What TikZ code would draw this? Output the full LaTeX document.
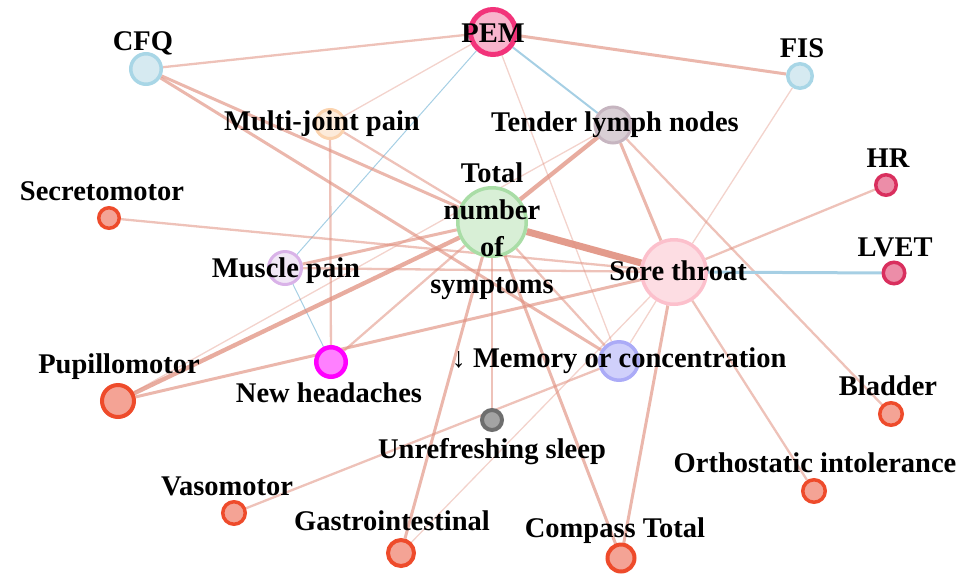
\documentclass[tikz,border=0pt]{standalone}
\usepackage{fontspec}
\setmainfont{Liberation Serif}
\usepackage{tikz}
\usetikzlibrary{backgrounds}
\definecolor{Ink}{HTML}{000000}
\definecolor{EdgeRed}{HTML}{E0907F}
\definecolor{EdgeBlue}{HTML}{A6CFE4}
\definecolor{PemLine}{HTML}{F2337A}
\definecolor{PemFill}{HTML}{F8B4CC}
\definecolor{SkyLine}{HTML}{A8D6E6}
\definecolor{SkyFill}{HTML}{D6EAF1}
\definecolor{PeachLine}{HTML}{FBD3AE}
\definecolor{PeachFill}{HTML}{FDEBDA}
\definecolor{MauveLine}{HTML}{C6B5C0}
\definecolor{MauveFill}{HTML}{D9CFD5}
\definecolor{RoseLine}{HTML}{D92F5E}
\definecolor{RoseFill}{HTML}{EC8DA8}
\definecolor{FlameLine}{HTML}{EE4B2B}
\definecolor{FlameFill}{HTML}{F4A395}
\definecolor{MintLine}{HTML}{A9DDA6}
\definecolor{MintFill}{HTML}{D8EFD6}
\definecolor{LilacLine}{HTML}{D9B2E8}
\definecolor{LilacFill}{HTML}{F1E7F6}
\definecolor{BlushLine}{HTML}{FCC0CC}
\definecolor{BlushFill}{HTML}{FDDDE3}
\definecolor{MagentaLine}{HTML}{FF00FF}
\definecolor{MagentaFill}{HTML}{FF80FF}
\definecolor{PeriLine}{HTML}{ABABF7}
\definecolor{PeriFill}{HTML}{D0D0FB}
\definecolor{SlateLine}{HTML}{6E6E6E}
\definecolor{SlateFill}{HTML}{A3A3A3}
\tikzset{
  sym/.style={
    circle, inner sep=0pt, line width=3.5pt, draw=#1Line, fill=#1Fill
  },
  tag/.style={
    font=\fontsize{28.5}{37}\selectfont\bfseries, text=Ink,
    inner sep=0pt, anchor=base, align=center
  },
  wk/.style={draw=EdgeRed, line width=1.3pt, draw opacity=.4},
  md/.style={draw=EdgeRed, line width=2.3pt, draw opacity=.55},
  st/.style={draw=EdgeRed, line width=3pt, draw opacity=.65},
  hv/.style={draw=EdgeRed, line width=4.3pt, draw opacity=.75},
  top/.style={draw=EdgeRed, line width=7pt, draw opacity=.9},
  neg/.style={draw=EdgeBlue, line width=#1}
}
\begin{document}
\begin{tikzpicture}[x=1pt,y=-1pt]
    \useasboundingbox (0,0) rectangle (963,574);
    \node[sym=Pem, line width=5pt, minimum size=45pt] (pem) at (493,32) {};
    \node[sym=Sky, minimum size=30.5pt] (cfq) at (146,69) {};
    \node[sym=Sky, minimum size=24.5pt] (fis) at (800,76) {};
    \node[sym=Peach, line width=3pt, minimum size=29pt] (mjp) at (330,124) {};
    \node[sym=Mauve, line width=3pt, minimum size=36pt] (tln) at (613,125) {};
    \node[sym=Rose, minimum size=20.5pt] (hr) at (886,185) {};
    \node[sym=Rose, minimum size=21.5pt] (lvet) at (894,273) {};
    \node[sym=Flame, minimum size=20.5pt] (secr) at (109,218) {};
    \node[sym=Mint, minimum size=68.5pt] (total) at (492,222) {};
    \node[sym=Lilac, line width=3pt, minimum size=33pt] (musc) at (285,268) {};
    \node[sym=Blush, minimum size=64.5pt] (sore) at (674,272) {};
    \node[sym=Peri, minimum size=38.5pt] (mem) at (619,361) {};
    \node[sym=Magenta, line width=4.5pt, minimum size=29.5pt] (head) at (331,362) {};
    \node[sym=Flame, line width=4pt, minimum size=32pt] (pupil) at (118,401) {};
    \node[sym=Slate, line width=4pt, minimum size=20pt] (sleep) at (492,420) {};
    \node[sym=Flame, minimum size=22.5pt] (blad) at (891,414) {};
    \node[sym=Flame, minimum size=22.5pt] (ortho) at (814,491) {};
    \node[sym=Flame, minimum size=22.5pt] (vaso) at (234,513) {};
    \node[sym=Flame, line width=4pt, minimum size=26pt] (gastro) at (401,553) {};
    \node[sym=Flame, line width=4pt, minimum size=27pt] (compass) at (621,558) {};
    \begin{scope}[on background layer]
      \draw[md] (cfq)--(pem);
      \draw[st] (pem)--(fis);
      \draw[wk] (pem)--(mjp);
      \draw[neg=1pt] (pem)--(musc);
      \draw[neg=2pt] (pem)--(tln);
      \draw[wk] (pem)--(mem);
      \draw[st] (cfq)--(total);
      \draw[st] (cfq)--(mem);
      \draw[md] (mjp)--(total);
      \draw[md] (mjp)--(head);
      \draw[md] (secr)--(sore);
      \draw[st] (musc)--(total);
      \draw[md] (musc)--(sore);
      \draw[neg=1pt] (musc)--(head);
      \draw[hv] (pupil)--(total);
      \draw[wk] (pupil)--(tln);
      \draw[st] (pupil)--(sore);
      \draw[md] (head)--(total);
      \draw[top] (total)--(sore);
      \draw[hv] (total)--(tln);
      \draw[md] (total)--(mem);
      \draw[md] (total)--(sleep);
      \draw[st] (total)--(gastro);
      \draw[st] (total)--(compass);
      \draw[st] (tln)--(sore);
      \draw[md] (tln)--(blad);
      \draw[wk] (fis)--(sore);
      \draw[md] (hr)--(sore);
      \draw[neg=3pt] (lvet)--(sore);
      \draw[wk] (sore)--(mem);
      \draw[st] (sore)--(compass);
      \draw[md] (sore)--(ortho);
      \draw[wk] (sore)--(gastro);
      \draw[md] (vaso)--(mem);
    \end{scope}
    \node[tag] (pem-t) at (493,42) {PEM};
    \node[tag] (cfq-t) at (143,50) {CFQ};
    \node[tag] (fis-t) at (802,57) {FIS};
    \node[tag] (mjp-t) at (322,130) {Multi-joint pain};
    \node[tag] (tln-t) at (615,131) {Tender lymph nodes};
    \node[tag] (hr-t) at (888,167) {HR};
    \node[tag] (lvet-t) at (895,256) {LVET};
    \node[tag] (secr-t) at (102,200) {Secretomotor};
    \node[tag,anchor=center] (total-t) at (492,231) {Total\\number\\of\\symptoms};
    \node[tag] (musc-t) at (286,277) {Muscle pain};
    \node[tag] (sore-t) at (678,280) {Sore throat};
    \node[tag] (mem-t) at (619,367) {{\mdseries↓} Memory or concentration};
    \node[tag] (head-t) at (329,402) {New headaches};
    \node[tag] (pupil-t) at (119,373) {Pupillomotor};
    \node[tag] (sleep-t) at (492,458) {Unrefreshing sleep};
    \node[tag] (blad-t) at (888,395) {Bladder};
    \node[tag] (ortho-t) at (815,472) {Orthostatic intolerance};
    \node[tag] (vaso-t) at (227,495) {Vasomotor};
    \node[tag] (gastro-t) at (392,530) {Gastrointestinal};
    \node[tag] (compass-t) at (615,537) {Compass Total};
\end{tikzpicture}
\end{document}
